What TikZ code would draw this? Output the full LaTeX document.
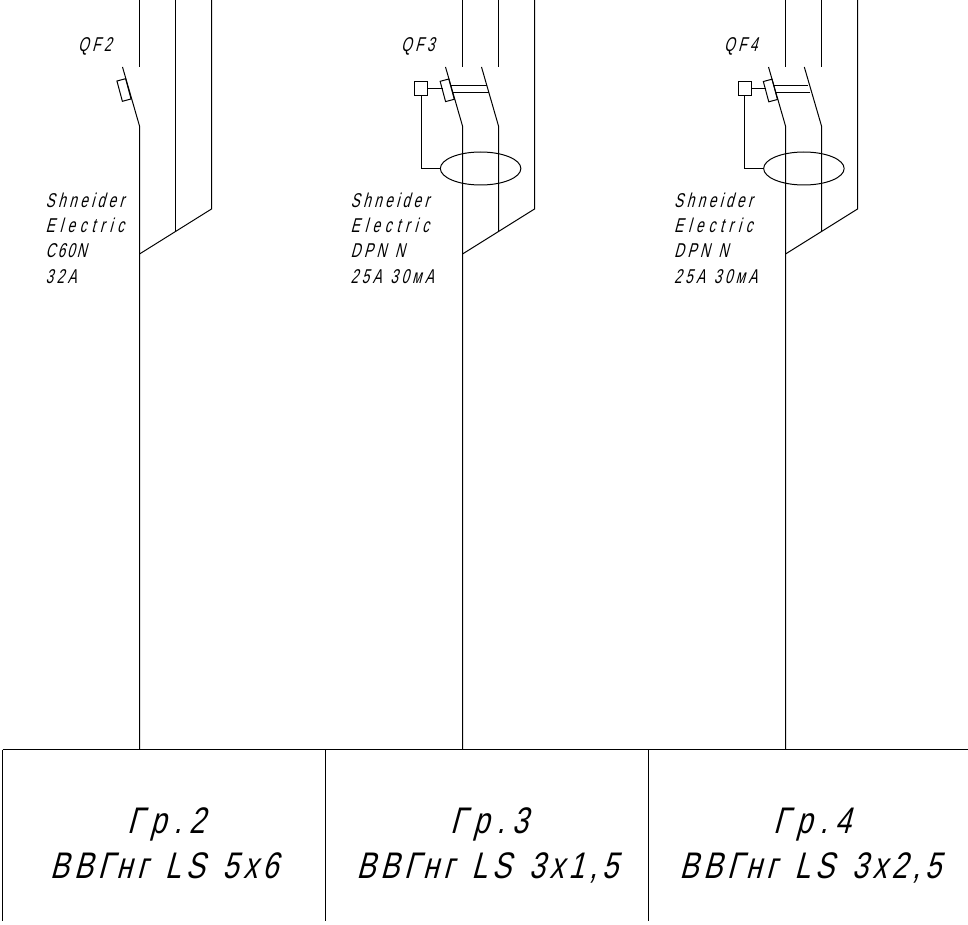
\documentclass[tikz,border=0pt]{standalone}
\usepackage{fontspec}
\usetikzlibrary{shapes.geometric}
\newfontfamily\gostsmall[FakeSlant=0.27,FakeStretch=0.68,LetterSpace=17,WordSpace=1.2]{Liberation Sans}
\newfontfamily\gostwide[FakeSlant=0.27,FakeStretch=0.68,LetterSpace=24]{Liberation Sans}
\newfontfamily\gosttight[FakeSlant=0.27,FakeStretch=0.68,LetterSpace=10]{Liberation Sans}
\newfontfamily\gostbig[FakeSlant=0.27,FakeStretch=0.77,LetterSpace=13,WordSpace=1.4]{Liberation Sans}
\tikzset{
  wire/.style={draw=black,line width=1pt},
  blocker/.style={draw=black,line width=1pt,rectangle,rotate=15,minimum width=9pt,minimum height=21pt,inner sep=0pt,outer sep=0pt},
  relay/.style={draw=black,line width=1pt,rectangle,minimum width=13pt,minimum height=14pt,inner sep=0pt,outer sep=0pt},
  core/.style={draw=black,line width=1pt,ellipse,minimum width=80.5pt,minimum height=33pt,inner sep=0pt,outer sep=0pt},
  tag/.style={anchor=base west,inner sep=0pt,font=\gostsmall\fontsize{20}{20}\selectfont},
  cable/.style={anchor=base,inner sep=0pt,font=\gostbig\fontsize{37}{37}\selectfont},
}
\begin{document}
\begin{tikzpicture}[x=1pt,y=-1pt]
\useasboundingbox[fill=white] (0,0) rectangle (968,925);

% ---- table
\coordinate (hl) at (2.5,749.5); \coordinate (hr) at (968,749.5);
\coordinate (c1t) at (2.5,749.5); \coordinate (c1b) at (2.5,921);
\coordinate (c2t) at (325.5,749.5); \coordinate (c2b) at (325.5,921);
\coordinate (c3t) at (648.5,749.5); \coordinate (c3b) at (648.5,921);
\draw[wire] (hl) -- (hr);
\draw[wire] (c1t) -- (c1b);
\draw[wire] (c2t) -- (c2b);
\draw[wire] (c3t) -- (c3b);

% ---- group 2
\coordinate (a1) at (139.5,0); \coordinate (a2) at (139.5,67);
\coordinate (a3) at (122.5,67); \coordinate (a4) at (139.5,126); \coordinate (a5) at (139.5,749);
\coordinate (b1) at (175.5,0); \coordinate (b2) at (175.5,231);
\coordinate (d1) at (211.5,0); \coordinate (d2) at (211.5,209); \coordinate (a6) at (139.5,254);
\draw[wire] (a1) -- (a2);
\draw[wire] (a3) -- (a4) -- (a5);
\draw[wire] (b1) -- (b2);
\draw[wire] (d1) -- (d2) -- (a6);
\node[blocker] (bk2) at (124,90) {};

% ---- group 3
\coordinate (e1) at (462.5,0); \coordinate (e2) at (462.5,67);
\coordinate (e3) at (445.5,67); \coordinate (e4) at (462.5,126); \coordinate (e5) at (462.5,749);
\coordinate (f1) at (498.5,0); \coordinate (f2) at (498.5,67);
\coordinate (f3) at (481.5,67); \coordinate (f4) at (498.5,126); \coordinate (f5) at (498.5,231);
\coordinate (g1) at (534.5,0); \coordinate (g2) at (534.5,209); \coordinate (e6) at (462.5,254);
\draw[wire] (e1) -- (e2);
\draw[wire] (e3) -- (e4) -- (e5);
\draw[wire] (f1) -- (f2);
\draw[wire] (f3) -- (f4) -- (f5);
\draw[wire] (g1) -- (g2) -- (e6);
\node[blocker] (bk3) at (447.2,90.3) {};
\node[relay] (rl3) at (421,89) {};
\node[core] (cr3) at (480.6,168.5) {};
\coordinate (k3a) at (450.3,85.5); \coordinate (k3b) at (486.7,85.5);
\coordinate (k3c) at (452.3,92.5); \coordinate (k3d) at (488.7,92.5);
\draw[wire] (k3a) -- (k3b);
\draw[wire] (k3c) -- (k3d);
\draw[wire] (rl3.east) -- (bk3.west |- rl3.east);
\draw[wire] (rl3.south) |- (cr3.west);

% ---- group 4
\coordinate (m1) at (785.5,0); \coordinate (m2) at (785.5,67);
\coordinate (m3) at (768.5,67); \coordinate (m4) at (785.5,126); \coordinate (m5) at (785.5,749);
\coordinate (n1) at (821.5,0); \coordinate (n2) at (821.5,67);
\coordinate (n3) at (804.3,67); \coordinate (n4) at (821.5,126); \coordinate (n5) at (821.5,231);
\coordinate (p1) at (857.5,0); \coordinate (p2) at (857.5,209); \coordinate (m6) at (785.5,254);
\draw[wire] (m1) -- (m2);
\draw[wire] (m3) -- (m4) -- (m5);
\draw[wire] (n1) -- (n2);
\draw[wire] (n3) -- (n4) -- (n5);
\draw[wire] (p1) -- (p2) -- (m6);
\node[blocker] (bk4) at (770.4,90.5) {};
\node[relay] (rl4) at (744.5,89) {};
\node[core] (cr4) at (803.9,168.5) {};
\coordinate (k4a) at (773.3,85.5); \coordinate (k4b) at (808.3,85.5);
\coordinate (k4c) at (775.3,92.5); \coordinate (k4d) at (810,92.5);
\draw[wire] (k4a) -- (k4b);
\draw[wire] (k4c) -- (k4d);
\draw[wire] (rl4.east) -- (bk4.west |- rl4.east);
\draw[wire] (rl4.south) |- (cr4.west);

% ---- labels
\node[tag] (q2) at (78,52) {QF2};
\node[tag] (q3) at (401,52) {QF3};
\node[tag] (q4) at (724,52) {QF4};

\node[tag] (t21) at (45.5,208) {Shneider};
\node[tag] (t22) at (45.5,233) {\gostwide Electric};
\node[tag] (t23) at (45.5,258) {\gosttight C60N};
\node[tag] (t24) at (45.5,283) {32A};

\node[tag] (t31) at (350.5,208) {Shneider};
\node[tag] (t32) at (350.5,233) {\gostwide Electric};
\node[tag] (t33) at (350.5,258) {DPN N};
\node[tag] (t34) at (350.5,283) {25A 30мА};

\node[tag] (t41) at (674,208) {Shneider};
\node[tag] (t42) at (674,233) {\gostwide Electric};
\node[tag] (t43) at (674,258) {DPN N};
\node[tag] (t44) at (674,283) {25A 30мА};

\node[cable] (g2a) at (166,833) {Г\kern7.5pt р\kern7.5pt .\kern7.5pt 2};
\node[cable] (g2b) at (164,878) {ВВГнг LS 5х6};
\node[cable] (g3a) at (489,833) {Г\kern7.5pt р\kern7.5pt .\kern7.5pt 3};
\node[cable] (g3b) at (487,878) {ВВГнг LS 3х1,5};
\node[cable] (g4a) at (812,833) {Г\kern7.5pt р\kern7.5pt .\kern7.5pt 4};
\node[cable] (g4b) at (810,878) {ВВГнг LS 3х2,5};
\end{tikzpicture}
\end{document}
